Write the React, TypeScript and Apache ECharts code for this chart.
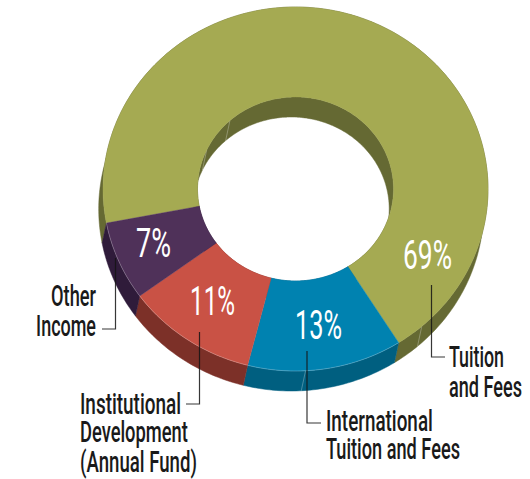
import React, { useEffect, useRef } from "react";
import * as echarts from "echarts";

const categories = ["Tuition and Fees", "International Tuition and Fees", "Institutional Development (Annual Fund)", "Other Income"];
const sliceValues = [69, 13, 11, 7];
const percentLabels = ["69%", "13%", "11%", "7%"];
const topColors = ["#a5aa52", "#0082b0", "#c95245", "#4f3159"];
const sideColors = ["#656933", "#005f80", "#7c3028", "#2f1b3a"];
const outerSeams = [49, 87];
const innerSeams = [228, 205];

const CX = 295.5, CY = 189, RX = 192.5, RY = 182, IRX = 98, IRY = 92;
const DX = -4.3, DY = 20, START = 169.2;
const FONT = "Roboto, sans-serif";

type P = [number, number];
const pt = (a: number, rx: number, ry: number, dx = 0, dy = 0): P => {
  const r = (a * Math.PI) / 180;
  return [CX + rx * Math.cos(r) + dx, CY + ry * Math.sin(r) + dy];
};
const arc = (a0: number, a1: number, rx: number, ry: number, dx = 0, dy = 0): P[] => {
  const n = Math.max(2, Math.ceil(Math.abs(a1 - a0)));
  const out: P[] = [];
  for (let i = 0; i <= n; i++) out.push(pt(a0 + ((a1 - a0) * i) / n, rx, ry, dx, dy));
  return out;
};
const span = (i: number): [number, number] => {
  const total = sliceValues.reduce((s, v) => s + v, 0);
  const before = sliceValues.slice(0, i).reduce((s, v) => s + v, 0);
  return [START + (before / total) * 360, START + ((before + sliceValues[i]) / total) * 360];
};

const texts: [string, number, number, string, number][] = [
  ["Other", 96, 307, "right", 45],
  ["Income", 96, 337, "right", 60],
  ["Institutional", 80, 414, "left", 101],
  ["Development", 80, 443, "left", 108],
  ["(Annual Fund)", 80, 472, "left", 117],
  ["International", 326, 431, "left", 107],
  ["Tuition and Fees", 326, 460, "left", 134],
  ["Tuition", 449, 368, "left", 55],
  ["and Fees", 449, 398, "left", 73],
];
const pctPos: [number, number, number][] = [
  [427.5, 270, 49],
  [318.5, 340, 47],
  [212.5, 316, 45],
  [153.5, 257, 35],
];
const leaders: P[][] = [
  [[431.5, 285], [431.5, 357], [445, 357]],
  [[307, 351], [307, 423], [321, 423]],
  [[199.5, 332], [199.5, 404], [186, 404]],
  [[115.5, 258], [115.5, 329], [102, 329]],
];

const measure = (t: string, font: string) => {
  const c = document.createElement("canvas").getContext("2d")!;
  c.font = font;
  return c.measureText(t).width;
};

export default function App() {
  const ref = useRef<HTMLDivElement>(null);
  useEffect(() => {
    document.body.style.margin = "0";
    const chart = echarts.init(ref.current!, undefined, { renderer: "svg" });
    const labelFont = `500 29px ${FONT}`;
    const pctFont = `400 40px ${FONT}`;
    const graphic: any[] = [];
    leaders.forEach((points) =>
      graphic.push({
        type: "polyline",
        z: 100,
        shape: { points },
        style: { stroke: "rgba(20,20,20,0.85)", lineWidth: 1.2, fill: "none" },
      })
    );
    texts.forEach(([text, x, y, align, w]) =>
      graphic.push({
        type: "text",
        z: 100,
        x,
        y: y - 10.5,
        scaleX: w / measure(text, labelFont),
        style: { text, font: labelFont, fill: "#1a1a1a", textAlign: align, textVerticalAlign: "middle" },
      })
    );
    percentLabels.forEach((text, i) =>
      graphic.push({
        type: "text",
        z: 101,
        x: pctPos[i][0],
        y: pctPos[i][1] - 14.5,
        scaleX: pctPos[i][2] / measure(text, pctFont),
        style: { text, font: pctFont, fill: "#ffffff", textAlign: "center", textVerticalAlign: "middle" },
      })
    );
    chart.setOption({
      animation: false,
      backgroundColor: "#ffffff",
      graphic,
      series: [
        {
          type: "custom",
          name: "sides",
          coordinateSystem: "none",
          silent: true,
          data: sliceValues.map((value, i) => ({ value, name: categories[i] })),
          renderItem: (params: any) => {
            const i = params.dataIndex;
            const [a0, a1] = span(i);
            const style = { fill: sideColors[i], stroke: sideColors[i], lineWidth: 0.5 };
            return {
              type: "group",
              children: [
                { type: "polygon", shape: { points: [...arc(a0, a1, RX, RY), ...arc(a1, a0, RX, RY, DX, DY)] }, style },
                { type: "polygon", shape: { points: [...arc(a0, a1, IRX, IRY), ...arc(a1, a0, IRX, IRY, DX, DY)] }, style },
              ],
            };
          },
        },
        {
          type: "custom",
          name: "seams",
          coordinateSystem: "none",
          silent: true,
          data: [...outerSeams.map((a) => [a, 0]), ...innerSeams.map((a) => [a, 1])],
          renderItem: (_: any, api: any) => {
            const a = api.value(0);
            const inner = api.value(1) === 1;
            const rx = inner ? IRX : RX;
            const ry = inner ? IRY : RY;
            return {
              type: "polyline",
              shape: { points: [pt(a, rx, ry), pt(a, rx, ry, DX, DY)] },
              style: { stroke: "rgba(255,255,255,0.4)", lineWidth: 0.7, fill: "none" },
            };
          },
        },
        {
          type: "custom",
          name: "tops",
          coordinateSystem: "none",
          silent: true,
          data: sliceValues.map((value, i) => ({ value, name: categories[i] })),
          renderItem: (params: any) => {
            const i = params.dataIndex;
            const [a0, a1] = span(i);
            const children: any[] = [
              {
                type: "polygon",
                shape: { points: [...arc(a0, a1, RX, RY), ...arc(a1, a0, IRX, IRY)] },
                style: { fill: topColors[i], stroke: topColors[i], lineWidth: 0.4 },
              },
            ];
            if (i > 0) {
              children.push({
                type: "polyline",
                shape: { points: arc(a0, a1, RX, RY) },
                style: { stroke: "rgba(255,255,255,0.4)", lineWidth: 0.6, fill: "none" },
              });
            }
            return { type: "group", children };
          },
        },
      ],
    });
    return () => chart.dispose();
  }, []);
  return <div ref={ref} style={{ width: 530, height: 479 }} />;
}
